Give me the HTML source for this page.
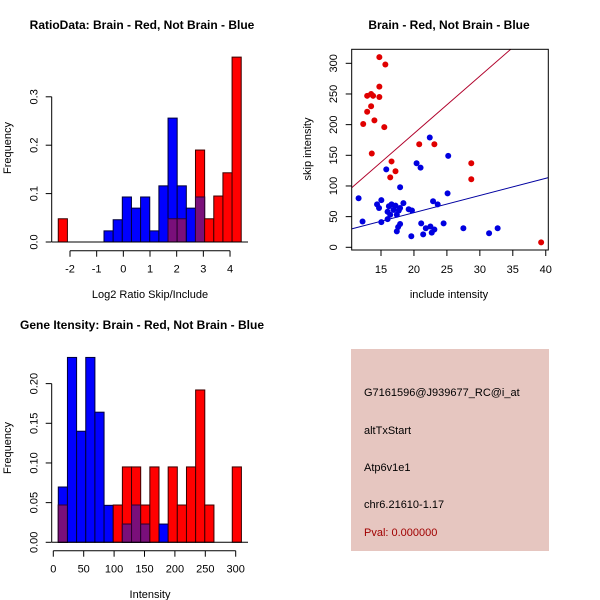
<!DOCTYPE html>
<html><head><meta charset="utf-8"><style>
body{margin:0;background:#fff}
svg{display:block;font-family:"Liberation Sans",sans-serif}
</style></head><body>
<svg id="c" width="600" height="600" viewBox="0 0 600 600"></svg>
<script>
// ---- Panel 1: ratio histogram ----
const ratioBinStart = -2.44;
const ratioBinWidth = 0.343;
const ratioRed  = [0.048,0,0,0,0,0,0,0,0,0,0,0,0.048,0.048,0,0.19,0.048,0.095,0.143,0.382];
const ratioBlue = [0,0,0,0,0,0.023,0.046,0.093,0.070,0.093,0.023,0.116,0.256,0.116,0.070,0.093,0,0,0,0];
const ratioXTicks = [-2,-1,0,1,2,3,4];
const ratioYTicks = [0,0.1,0.2,0.3];
const ratioYLabels = ["0.0","0.1","0.2","0.3"];
// ---- Panel 2: scatter ----
const brainX = [14.75,15.66,14.75,14.75,12.9,13.5,13.8,13.5,12.9,14.0,12.3,15.5,13.6,20.8,23.1,16.6,16.4,17.2,28.7,28.7,39.3];
const brainY = [310,298,262,245,247,250,247,230,221,207,201,196,153,168,168,140,114,124,137,111,8];
const otherX = [11.6,12.2,15.8,17.9,22.4,25.2,20.4,21.0,25.1,15.05,14.4,14.7,15.05,16.0,16.0,16.2,16.6,17.2,16.4,16.9,17.4,17.7,17.9,18.4,19.2,19.7,22.9,23.6,17.4,17.6,17.9,19.6,21.1,21.4,21.8,22.5,23.1,22.7,24.5,27.5,31.4,32.7];
const otherY = [80,42,127,98,179,149,137,130,88,77,70,64,41,46,58,67,70,68,53,61,53,60,64,72,62,60,75,70,26,33,38,18,39,21,31,34,29,24,39,31,23,31];
const brainLine = [-1.7, 9.36];
const otherLine = [0.5, 2.8];
const scatXTicks = [15,20,25,30,35,40];
const scatYTicks = [0,50,100,150,200,250,300];
// ---- Panel 3: intensity histogram ----
const intBinStart = 8.2;
const intBinWidth = 15.06;
const intRed  = [0.047,0,0,0,0,0,0.047,0.095,0.095,0.047,0.095,0,0.095,0.047,0.095,0.192,0.047,0,0,0.095];
const intBlue = [0.0697,0.233,0.140,0.233,0.164,0.0466,0,0.023,0.047,0.023,0,0.023,0,0,0,0,0,0,0,0];
const intXTicks = [0,50,100,150,200,250,300];
const intYTicks = [0,0.05,0.10,0.15,0.20];
const intYLabels = ["0.00","0.05","0.10","0.15","0.20"];
// ---- Panel 4 text ----
const infoLines = ["G7161596@J939677_RC@i_at","altTxStart","Atp6v1e1","chr6.21610-1.17"];
const pvalText = "Pval: 0.000000";

const svg = document.getElementById('c');
const NS = 'http://www.w3.org/2000/svg';
function mk(tag, attrs, parent){const e=document.createElementNS(NS,tag);for(const k in attrs)e.setAttribute(k,attrs[k]);(parent||svg).appendChild(e);return e;}
function txt(s,x,y,attrs){const e=mk('text',Object.assign({x:x,y:y,'font-size':11,'text-anchor':'middle',fill:'#000'},attrs||{}));e.textContent=s;return e;}

function hist(g, binStart, binW, red, blue, sx, sy){
  for(let i=0;i<red.length;i++){
    const x0=sx(binStart+i*binW), x1=sx(binStart+(i+1)*binW);
    if(red[i]>0){const r=mk('rect',{x:x0,y:sy(red[i]),width:x1-x0,height:sy(0)-sy(red[i]),fill:'#ff0000',stroke:'#3a0000','stroke-width':1},g);
      }
    if(blue[i]>0){const b=mk('rect',{x:x0,y:sy(blue[i]),width:x1-x0,height:sy(0)-sy(blue[i]),fill:'#0000ff',stroke:'#00003a','stroke-width':1},g);
      }
    const m=Math.min(red[i],blue[i]);
    if(m>0){const p=mk('rect',{x:x0,y:sy(m),width:x1-x0,height:sy(0)-sy(m),fill:'#7a0f7a',stroke:'#300030','stroke-width':1},g);
      }
  }
}
function yAxis(g,ticks,labels,sy,ax){
  mk('line',{x1:ax,x2:ax,y1:sy(ticks[0]),y2:sy(ticks[ticks.length-1]),stroke:'#000'},g);
  ticks.forEach((t,i)=>{const y=sy(t);mk('line',{x1:ax,x2:ax-6,y1:y,y2:y,stroke:'#000'},g);
    txt(labels[i],ax-18,y+4,{transform:`rotate(-90 ${ax-18} ${y})`,'text-anchor':'middle'});});
}
function xAxis(g,ticks,sx,ay){
  mk('line',{x1:sx(ticks[0]),x2:sx(ticks[ticks.length-1]),y1:ay,y2:ay,stroke:'#000'},g);
  ticks.forEach(t=>{const x=sx(t);mk('line',{x1:x,x2:x,y1:ay,y2:ay+6,stroke:'#000'},g);txt(String(t),x,ay+22);});
}

// Panel 1
{
  const g=mk('g',{});  
  const sx=v=>70+(v+2)*26.67, sy=v=>242-v*484;
  hist(g,ratioBinStart,ratioBinWidth,ratioRed,ratioBlue,sx,sy);
  mk('line',{x1:52,x2:248,y1:242,y2:242,stroke:'#000'},g);
  yAxis(g,ratioYTicks,ratioYLabels,sy,51.7);
  xAxis(g,ratioXTicks,sx,250.7);
  txt('RatioData: Brain - Red, Not Brain - Blue',142,29,{'font-weight':'bold','font-size':12});
  txt('Log2 Ratio Skip/Include',150,298);
  txt('Frequency',11,148,{transform:'rotate(-90 11 148)'});
}
// Panel 2
{
  const g=mk('g',{});  
  const L=351.7,R=548.3,T=49.3,B=250;
  const sx=v=>381+(v-15)*6.59, sy=v=>247.3-v*0.6133;
  const cp=mk('clipPath',{id:'clp'},g); mk('rect',{x:L,y:T,width:R-L,height:B-T},cp);
  [[brainLine,'#b0002a'],[otherLine,'#0000a0']].forEach(([ln,c])=>{
    const xa=10.55, xb=40.4;
    const l=mk('line',{x1:sx(xa),y1:sy(ln[0]+ln[1]*xa),x2:sx(xb),y2:sy(ln[0]+ln[1]*xb),stroke:c,'clip-path':'url(#clp)'},g);
    
  });
  otherX.forEach((x,i)=>{const c=mk('circle',{cx:sx(x),cy:sy(otherY[i]),r:3,fill:'#0000e0'},g);
    });
  brainX.forEach((x,i)=>{const c=mk('circle',{cx:sx(x),cy:sy(brainY[i]),r:3,fill:'#e00000'},g);
    });
  mk('rect',{x:L,y:T,width:R-L,height:B-T,fill:'none',stroke:'#000'},g);
  scatXTicks.forEach(t=>{const x=sx(t);mk('line',{x1:x,x2:x,y1:B,y2:B+6,stroke:'#000'},g);txt(String(t),x,273);});
  scatYTicks.forEach(t=>{const y=sy(t);mk('line',{x1:L,x2:L-6,y1:y,y2:y,stroke:'#000'},g);txt(String(t),333,y+4,{transform:`rotate(-90 333 ${y})`});});
  txt('Brain - Red, Not Brain - Blue',449,29,{'font-weight':'bold','font-size':12});
  txt('include intensity',449,298);
  txt('skip intensity',311,149,{transform:'rotate(-90 311 149)'});
}
// Panel 3
{
  const g=mk('g',{});  
  const sx=v=>53.3+v*0.608, sy=v=>542.3-v*793.4;
  hist(g,intBinStart,intBinWidth,intRed,intBlue,sx,sy);
  mk('line',{x1:52,x2:248,y1:542.3,y2:542.3,stroke:'#000'},g);
  yAxis(g,intYTicks,intYLabels,sy,51.7);
  xAxis(g,intXTicks,sx,550.7);
  txt('Gene Itensity: Brain - Red, Not Brain - Blue',142,329,{'font-weight':'bold','font-size':12});
  txt('Intensity',150,598);
  txt('Frequency',11,448,{transform:'rotate(-90 11 448)'});
}
// Panel 4
{
  const g=mk('g',{});  
  mk('rect',{x:351,y:349,width:198,height:202,fill:'#e6c6c0'},g);
  const ys=[396,434,471,508];
  infoLines.forEach((s,i)=>{const t=txt(s,364,ys[i],{'text-anchor':'start'});});
  const p=txt(pvalText,364,536,{'text-anchor':'start',fill:'#a00000'});
  
}
</script>
</body></html>
